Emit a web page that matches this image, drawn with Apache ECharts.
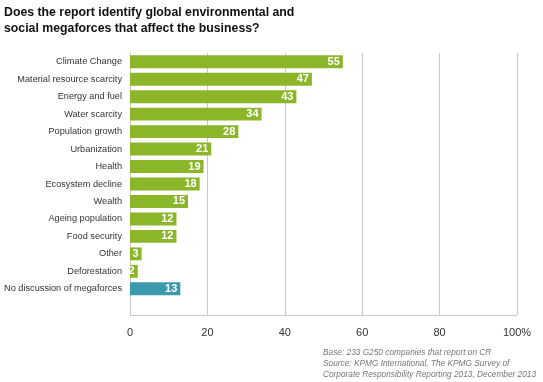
<!DOCTYPE html>
<html><head><meta charset="utf-8">
<script src="https://cdn.jsdelivr.net/npm/echarts@6/dist/echarts.min.js"></script>
<style>html,body{margin:0;padding:0;background:#fff}#c{width:543px;height:382px}</style>
</head><body><div id="c"></div>
<script>
const categories = ["Climate Change","Material resource scarcity","Energy and fuel","Water scarcity","Population growth","Urbanization","Health","Ecosystem decline","Wealth","Ageing population","Food security","Other","Deforestation","No discussion of megaforces"];
const values = [55,47,43,34,28,21,19,18,15,12,12,3,2,13];
const highlight = ["No discussion of megaforces"];
const xTicks = [0,20,40,60,80,100];
const titleText = "Does the report identify global environmental and\nsocial megaforces that affect the business?";
const noteText = "Base: 233 G250 companies that report on CR\nSource: KPMG International, The KPMG Survey of\nCorporate Responsibility Reporting 2013, December 2013";

const green = "#8cb62a", teal = "#3b9aae";
const font = 'Liberation Sans, Arial, sans-serif';
const cats = categories.concat([""]);
const data = values.map((v,i)=>({value:v,itemStyle:{color: highlight.includes(categories[i]) ? teal : green}}));

const chart = echarts.init(document.getElementById('c'));
chart.setOption({
  animation:false,
  title:[{text:titleText,left:4,top:5,padding:0,textStyle:{fontFamily:font,fontSize:12.3,fontWeight:'bold',color:'#111',lineHeight:15.5}},
         {text:noteText,left:323,top:347,padding:0,textStyle:{fontFamily:font,fontSize:8.3,fontStyle:'italic',fontWeight:'normal',color:'#777',lineHeight:11}}],
  grid:{left:130,right:26,top:53,bottom:67,containLabel:false,outerBoundsMode:'none'},
  xAxis:{type:'value',min:xTicks[0],max:xTicks[xTicks.length-1],interval:20,
    axisLine:{show:false},axisTick:{show:false},
    splitLine:{show:true,lineStyle:{color:'#c8c8c8',width:1}},
    axisLabel:{margin:12,fontFamily:font,fontSize:11,color:'#333',formatter:v=>v===100?'100%':String(v)}},
  yAxis:{type:'category',data:cats,inverse:true,
    axisLine:{show:true,lineStyle:{color:'#c8c8c8'}},axisTick:{show:false},
    axisLabel:{margin:8,fontFamily:font,fontSize:9.2,color:'#333'}},
  series:[{type:'bar',data:data,barCategoryGap:'26%',
    label:{show:true,position:'insideRight',offset:[2,0],color:'#fff',fontWeight:'bold',fontSize:11,fontFamily:font}}],
  graphic:[{type:'line',shape:{x1:130,y1:315.5,x2:517,y2:315.5},style:{stroke:'#c8c8c8',lineWidth:1},silent:true}]
});
</script></body></html>
